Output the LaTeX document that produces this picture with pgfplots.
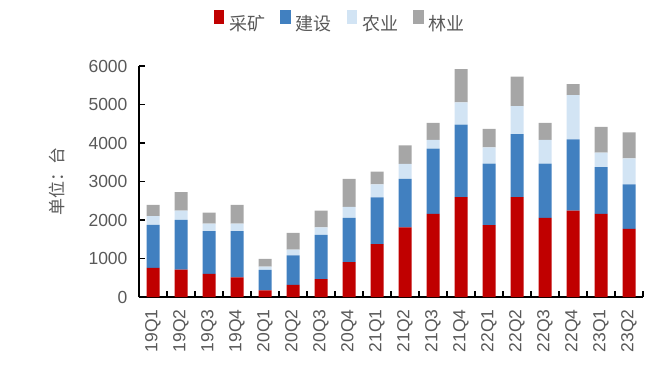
\documentclass[border=0pt]{standalone}
\usepackage{fontspec}
\setmainfont{Liberation Sans}
\newfontfamily\cjk{Noto Sans CJK SC}
\usepackage{pgfplots}
\usepackage{pgfplotstable}
\pgfplotsset{compat=1.18}
\definecolor{cRed}{HTML}{C00000}
\definecolor{cBlue}{HTML}{4180C0}
\definecolor{cLight}{HTML}{D2E4F4}
\definecolor{cGray}{HTML}{A6A6A6}
\definecolor{txt}{HTML}{595959}
\pgfplotstableread{
x mining construction agri forestry
0 757 1117 224 292
1 714 1289 241 482
2 602 1109 198 284
3 507 1204 198 481
4 172 533 86 198
5 318 765 147 438
6 464 1153 189 438
7 903 1152 284 731
8 1376 1212 335 336
9 1806 1264 387 481
10 2158 1694 232 439
11 2597 1883 576 860
12 1866 1599 421 482
13 2597 1633 731 766
14 2055 1410 619 439
15 2244 1849 1152 284
16 2158 1213 378 670
17 1771 1152 680 670
}\datatable
\begin{document}
\begin{tikzpicture}[x=1pt,y=1pt]
\path[use as bounding box] (0,0) rectangle (668,368);
\begin{axis}[
  at={(139pt,71pt)}, anchor=south west,
  scale only axis, width=504pt, height=231pt,
  ybar stacked, bar width=13pt,
  xmin=-0.5, xmax=17.5, ymin=0, ymax=6000,
  axis x line*=bottom, axis y line*=left,
  axis line style={line width=1.2pt, -},
  ytick={0,1000,...,6000},
  scaled y ticks=false,
  /pgf/number format/1000 sep={},
  /pgf/number format/assume math mode=true,
  xtick={-0.5,0.5,...,17.5},
  xticklabels={},
  extra x ticks={0,...,17},
  extra x tick labels={19Q1,19Q2,19Q3,19Q4,20Q1,20Q2,20Q3,20Q4,21Q1,21Q2,21Q3,21Q4,22Q1,22Q2,22Q3,22Q4,23Q1,23Q2},
  extra x tick style={major tick length=0pt},
  xticklabel shift=9pt,
  tick align=inside,
  major tick length=6pt,
  tick style={black, line width=1.1pt},
  xticklabel style={rotate=90, anchor=east, font=\fontsize{17.5}{20}\selectfont, text=txt},
  yticklabel style={font=\fontsize{17.5}{20}\selectfont, text=txt, xshift=-8pt},
  ylabel={\cjk 单位：台},
  ylabel style={at={(axis description cs:-0.163,0.5)}, anchor=center, font=\fontsize{17}{20}\selectfont, text=txt},
  legend columns=4,
  legend style={at={(axis description cs:0.397,1.19)}, anchor=center, draw=none,
    font=\cjk\fontsize{18}{20}\selectfont, text=txt,
    /tikz/every odd column/.append style={column sep=5pt},
    /tikz/every even column/.append style={column sep=15pt},
    nodes={inner xsep=0pt}},
  legend image code/.code={\fill[#1,draw=none] (0pt,-1pt) rectangle (10.5pt,13pt);},
]
\addplot[fill=cRed, draw=none] table[x=x,y=mining]{\datatable};
\addplot[fill=cBlue, draw=none] table[x=x,y=construction]{\datatable};
\addplot[fill=cLight, draw=none] table[x=x,y=agri]{\datatable};
\addplot[fill=cGray, draw=none] table[x=x,y=forestry]{\datatable};
\legend{采矿,建设,农业,林业}
\end{axis}
\end{tikzpicture}
\end{document}
